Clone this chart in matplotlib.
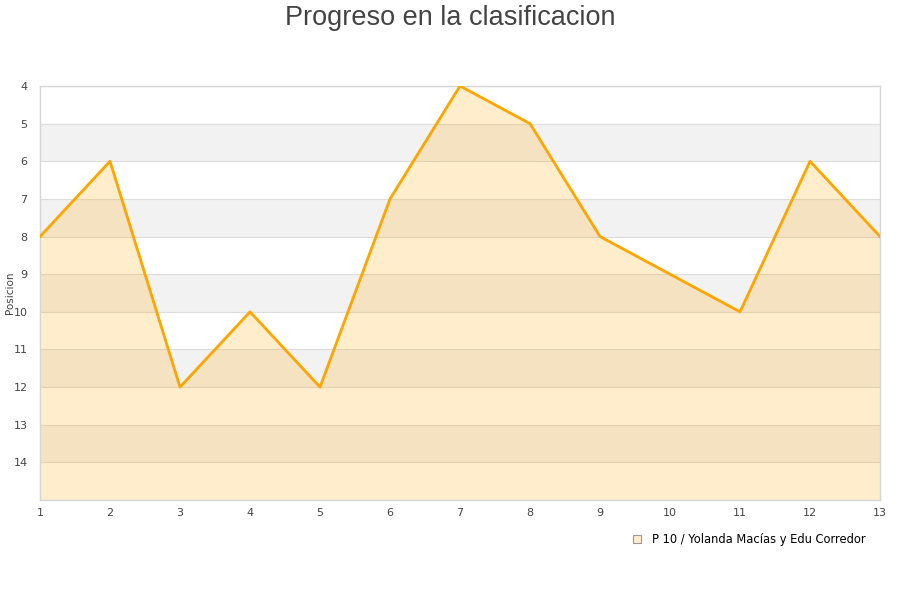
import matplotlib.pyplot as plt
import numpy as np

jornadas = [1, 2, 3, 4, 5, 6, 7, 8, 9, 10, 11, 12, 13]
posicion = [8, 6, 12, 10, 12, 7, 4, 5, 8, 9, 10, 6, 8]
equipo = "P 10 / Yolanda Macías y Edu Corredor"
y_ticks = [4, 5, 6, 7, 8, 9, 10, 11, 12, 13, 14]


def main():
  fig = plt.figure(figsize=(9, 6), dpi=100)
  ax = fig.add_axes([40 / 900, 100 / 600, 840 / 900, 414 / 600])

  # alternating grey bands
  for lo in [5, 7, 9, 11, 13]:
    ax.axhspan(lo, lo + 1, color="#f2f2f2", zorder=0, lw=0)
  for v in y_ticks:
    ax.axhline(v, color="#dddddd", lw=0.8, zorder=1)

  ax.fill_between(jornadas, posicion, 15, color="#ffa500", alpha=0.2, lw=0, zorder=2)
  ax.plot(jornadas, posicion, color="#ffa500", lw=2, zorder=3)

  ax.set_xlim(1, 13)
  ax.set_ylim(15, 4)
  ax.set_xticks(jornadas)
  ax.set_yticks(y_ticks)
  ax.tick_params(length=0, labelsize=8, colors="#444444", pad=6)
  ax.tick_params(axis="y", pad=9)
  for s in ax.spines.values():
    s.set_color("#d6d6d6")
    s.set_linewidth(1)

  fig.text(10 / 900, 1 - 293 / 600, "Posicion", fontsize=7.5, color="#444444",
           rotation=90, ha="center", va="center")
  fig.suptitle("Progreso en la clasificacion", fontsize=19.5, color="#444444",
               family="Liberation Sans", y=0.992)

  ax.scatter([], [], marker="s", s=40, facecolor="#ffedcc", edgecolor="#999999",
             linewidth=0.8, label=equipo)
  fig.legend(loc="center right", bbox_to_anchor=(866 / 900, 1 - 539 / 600), frameon=False,
             fontsize=8.3, handletextpad=0.3, borderaxespad=0, borderpad=0)

  plt.savefig("out.png")


if __name__ == "__main__":
  main()
